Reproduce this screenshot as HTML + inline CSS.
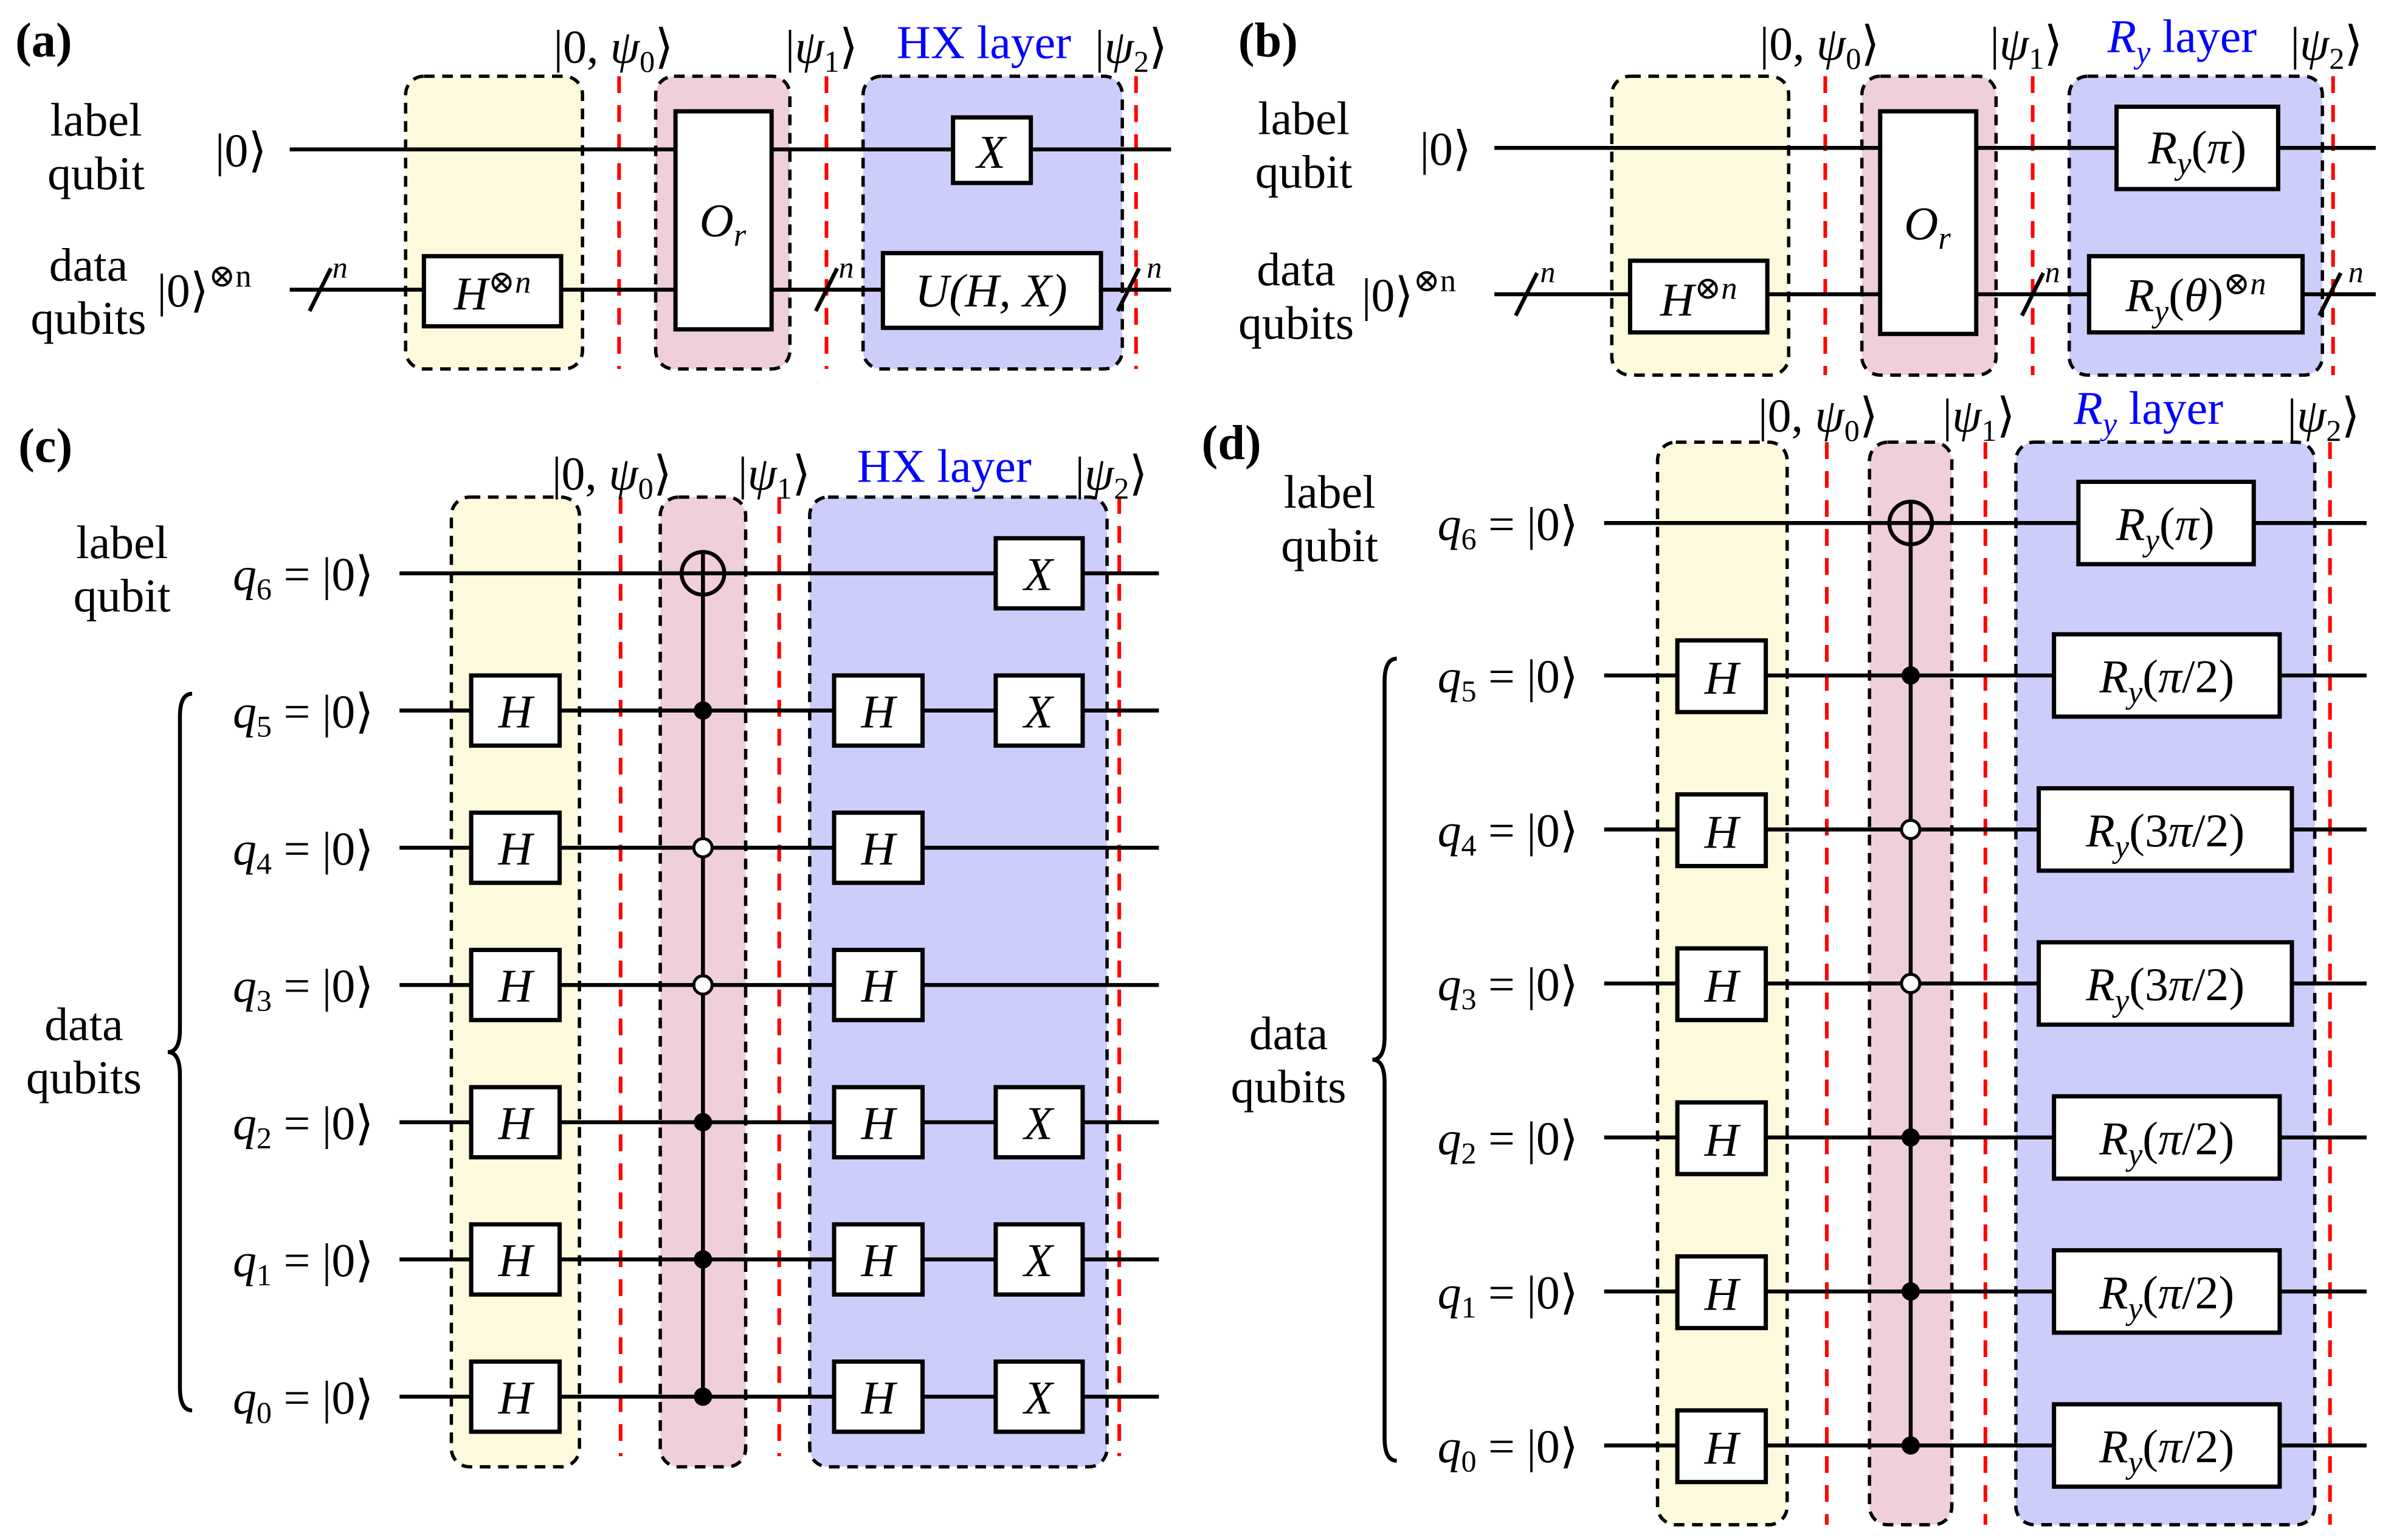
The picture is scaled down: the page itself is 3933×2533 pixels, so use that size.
<!DOCTYPE html>
<html><head><meta charset="utf-8"><style>
html,body{margin:0;padding:0;background:#fff}
svg{display:block}
text{font-family:"Liberation Serif","DejaVu Serif",serif;fill:#000}
.m{font-style:italic}
.w{stroke:#000;stroke-width:2.6;fill:none}
.b{fill:#fff;stroke:#000;stroke-width:2.8}
.r{stroke:#f00;stroke-width:2.4;stroke-dasharray:11 8}
.gy{fill:#fdf9dc;stroke:#000;stroke-width:2.2;stroke-dasharray:7 5}
.gp{fill:#efcfdc;stroke:#000;stroke-width:2.2;stroke-dasharray:7 5}
.gb{fill:#cdcdfb;stroke:#000;stroke-width:2.2;stroke-dasharray:7 5}
.bl{fill:#0000ff}
</style></head><body>
<svg width="3933" height="2533" viewBox="0 0 1568 1010" preserveAspectRatio="none" xmlns="http://www.w3.org/2000/svg">
<g font-size="31">
<!-- ===== (a) ===== -->
<text x="10" y="37" font-weight="bold" font-size="32">(a)</text>
<rect class="gy" x="266" y="50" width="116" height="192" rx="12"/>
<rect class="gp" x="430" y="50" width="88" height="192" rx="12"/>
<rect class="gb" x="566" y="50" width="170" height="192" rx="12"/>
<line class="r" x1="406" y1="50" x2="406" y2="242"/>
<line class="r" x1="542" y1="50" x2="542" y2="242"/>
<line class="r" x1="745" y1="50" x2="745" y2="242"/>
<line class="w" x1="190" y1="98" x2="768" y2="98"/>
<line class="w" x1="190" y1="190" x2="768" y2="190"/>
<line class="w" x1="203" y1="204" x2="217" y2="176"/><text x="218" y="182" class="m" font-size="20">n</text>
<line class="w" x1="535" y1="204" x2="549" y2="176"/><text x="550" y="182" class="m" font-size="20">n</text>
<line class="w" x1="733" y1="204" x2="747" y2="176"/><text x="752" y="182" class="m" font-size="20">n</text>
<rect class="b" x="278" y="168" width="90" height="46"/><text x="323" y="203" text-anchor="middle" class="m">H<tspan font-size="21" dy="-11">⊗n</tspan></text>
<rect class="b" x="443" y="73" width="63" height="143"/><text x="474" y="155" text-anchor="middle" class="m">O<tspan font-size="21" dy="6">r</tspan></text>
<rect class="b" x="625" y="77" width="51" height="43"/><text x="650" y="110" text-anchor="middle" class="m">X</text>
<rect class="b" x="579" y="166" width="143" height="49"/><text x="650" y="201" text-anchor="middle" class="m">U(H, X)</text>
<text x="63" y="89" text-anchor="middle">label</text><text x="63" y="124" text-anchor="middle">qubit</text>
<text x="158" y="109" text-anchor="middle">|0⟩</text>
<text x="58" y="184" text-anchor="middle">data</text><text x="58" y="219" text-anchor="middle">qubits</text>
<text x="103" y="201">|0⟩<tspan font-size="21" dy="-13">⊗n</tspan></text>
<text x="363" y="41">|0, <tspan class="m">ψ</tspan><tspan font-size="20" dy="6">0</tspan><tspan dy="-6">⟩</tspan></text>
<text x="515" y="41">|<tspan class="m">ψ</tspan><tspan font-size="20" dy="6">1</tspan><tspan dy="-6">⟩</tspan></text>
<text x="588" y="38" class="bl">HX layer</text>
<text x="718" y="41">|<tspan class="m">ψ</tspan><tspan font-size="20" dy="6">2</tspan><tspan dy="-6">⟩</tspan></text>

<!-- ===== (b) ===== -->
<text x="812" y="37" font-weight="bold" font-size="32">(b)</text>
<rect class="gy" x="1057" y="50" width="116" height="196" rx="12"/>
<rect class="gp" x="1221" y="50" width="88" height="196" rx="12"/>
<rect class="gb" x="1357" y="50" width="166" height="196" rx="12"/>
<line class="r" x1="1197" y1="50" x2="1197" y2="246"/>
<line class="r" x1="1333" y1="50" x2="1333" y2="246"/>
<line class="r" x1="1530" y1="50" x2="1530" y2="246"/>
<line class="w" x1="980" y1="97" x2="1558" y2="97"/>
<line class="w" x1="980" y1="193" x2="1558" y2="193"/>
<line class="w" x1="994" y1="207" x2="1008" y2="179"/><text x="1010" y="185" class="m" font-size="20">n</text>
<line class="w" x1="1326" y1="207" x2="1340" y2="179"/><text x="1341" y="185" class="m" font-size="20">n</text>
<line class="w" x1="1521" y1="207" x2="1535" y2="179"/><text x="1540" y="185" class="m" font-size="20">n</text>
<rect class="b" x="1069" y="171" width="90" height="47"/><text x="1114" y="207" text-anchor="middle" class="m">H<tspan font-size="21" dy="-11">⊗n</tspan></text>
<rect class="b" x="1233" y="73" width="63" height="146"/><text x="1264" y="157" text-anchor="middle" class="m">O<tspan font-size="21" dy="6">r</tspan></text>
<rect class="b" x="1388" y="70" width="106" height="54"/><text x="1441" y="107" text-anchor="middle"><tspan class="m">R<tspan font-size="21" dy="7">y</tspan></tspan><tspan dy="-7">(</tspan><tspan class="m">π</tspan>)</text>
<rect class="b" x="1370" y="168" width="140" height="50"/><text x="1440" y="204" text-anchor="middle"><tspan class="m">R<tspan font-size="21" dy="7">y</tspan></tspan><tspan dy="-7">(</tspan><tspan class="m">θ</tspan>)<tspan font-size="21" dy="-11">⊗<tspan class="m">n</tspan></tspan></text>
<text x="855" y="88" text-anchor="middle">label</text><text x="855" y="123" text-anchor="middle">qubit</text>
<text x="948" y="108" text-anchor="middle">|0⟩</text>
<text x="850" y="187" text-anchor="middle">data</text><text x="850" y="222" text-anchor="middle">qubits</text>
<text x="893" y="204">|0⟩<tspan font-size="21" dy="-13">⊗n</tspan></text>
<text x="1154" y="39">|0, <tspan class="m">ψ</tspan><tspan font-size="20" dy="6">0</tspan><tspan dy="-6">⟩</tspan></text>
<text x="1305" y="39">|<tspan class="m">ψ</tspan><tspan font-size="20" dy="6">1</tspan><tspan dy="-6">⟩</tspan></text>
<text x="1382" y="34" class="bl"><tspan class="m">R<tspan font-size="21" dy="7">y</tspan></tspan><tspan dy="-7"> layer</tspan></text>
<text x="1502" y="39">|<tspan class="m">ψ</tspan><tspan font-size="20" dy="6">2</tspan><tspan dy="-6">⟩</tspan></text>

<!-- ===== (c) ===== -->
<text x="12" y="303" font-weight="bold" font-size="32">(c)</text>
<rect class="gy" x="296" y="326" width="84" height="636" rx="12"/>
<rect class="gp" x="433" y="326" width="56" height="636" rx="12"/>
<rect class="gb" x="531" y="326" width="195" height="636" rx="12"/>
<line class="r" x1="407" y1="326" x2="407" y2="955"/>
<line class="r" x1="511" y1="326" x2="511" y2="955"/>
<line class="r" x1="734" y1="326" x2="734" y2="955"/>
<g class="w">
<line x1="262" y1="376" x2="760" y2="376"/><line x1="262" y1="466" x2="760" y2="466"/>
<line x1="262" y1="556" x2="760" y2="556"/><line x1="262" y1="646" x2="760" y2="646"/>
<line x1="262" y1="736" x2="760" y2="736"/><line x1="262" y1="826" x2="760" y2="826"/>
<line x1="262" y1="916" x2="760" y2="916"/>
<line x1="461" y1="362" x2="461" y2="916"/>
<circle cx="461" cy="376" r="14"/>
</g>
<circle cx="461" cy="466" r="6"/><circle cx="461" cy="556" r="6" fill="#fff" stroke="#000" stroke-width="2"/>
<circle cx="461" cy="646" r="6" fill="#fff" stroke="#000" stroke-width="2"/>
<circle cx="461" cy="736" r="6"/><circle cx="461" cy="826" r="6"/><circle cx="461" cy="916" r="6"/>
<g>
<rect class="b" x="309" y="443" width="58" height="46"/><rect class="b" x="309" y="533" width="58" height="46"/>
<rect class="b" x="309" y="623" width="58" height="46"/><rect class="b" x="309" y="713" width="58" height="46"/>
<rect class="b" x="309" y="803" width="58" height="46"/><rect class="b" x="309" y="893" width="58" height="46"/>
<rect class="b" x="547" y="443" width="58" height="46"/><rect class="b" x="547" y="533" width="58" height="46"/>
<rect class="b" x="547" y="623" width="58" height="46"/><rect class="b" x="547" y="713" width="58" height="46"/>
<rect class="b" x="547" y="803" width="58" height="46"/><rect class="b" x="547" y="893" width="58" height="46"/>
<rect class="b" x="653" y="353" width="57" height="46"/><rect class="b" x="653" y="443" width="57" height="46"/>
<rect class="b" x="653" y="713" width="57" height="46"/><rect class="b" x="653" y="803" width="57" height="46"/>
<rect class="b" x="653" y="893" width="57" height="46"/>
</g>
<g class="m" text-anchor="middle">
<text x="338" y="477">H</text><text x="338" y="567">H</text><text x="338" y="657">H</text><text x="338" y="747">H</text><text x="338" y="837">H</text><text x="338" y="927">H</text>
<text x="576" y="477">H</text><text x="576" y="567">H</text><text x="576" y="657">H</text><text x="576" y="747">H</text><text x="576" y="837">H</text><text x="576" y="927">H</text>
<text x="681" y="387">X</text><text x="681" y="477">X</text><text x="681" y="747">X</text><text x="681" y="837">X</text><text x="681" y="927">X</text>
</g>
<g text-anchor="end">
<text x="245" y="387"><tspan class="m">q</tspan><tspan font-size="20" dy="6">6</tspan><tspan dy="-6"> = |0⟩</tspan></text>
<text x="245" y="477"><tspan class="m">q</tspan><tspan font-size="20" dy="6">5</tspan><tspan dy="-6"> = |0⟩</tspan></text>
<text x="245" y="567"><tspan class="m">q</tspan><tspan font-size="20" dy="6">4</tspan><tspan dy="-6"> = |0⟩</tspan></text>
<text x="245" y="657"><tspan class="m">q</tspan><tspan font-size="20" dy="6">3</tspan><tspan dy="-6"> = |0⟩</tspan></text>
<text x="245" y="747"><tspan class="m">q</tspan><tspan font-size="20" dy="6">2</tspan><tspan dy="-6"> = |0⟩</tspan></text>
<text x="245" y="837"><tspan class="m">q</tspan><tspan font-size="20" dy="6">1</tspan><tspan dy="-6"> = |0⟩</tspan></text>
<text x="245" y="927"><tspan class="m">q</tspan><tspan font-size="20" dy="6">0</tspan><tspan dy="-6"> = |0⟩</tspan></text>
</g>
<path class="w" d="M126 455 Q118 455 118 470 L118 675 Q118 690 110 690 Q118 690 118 705 L118 910 Q118 925 126 925"/>
<text x="80" y="366" text-anchor="middle">label</text><text x="80" y="401" text-anchor="middle">qubit</text>
<text x="55" y="682" text-anchor="middle">data</text><text x="55" y="717" text-anchor="middle">qubits</text>
<text x="362" y="321">|0, <tspan class="m">ψ</tspan><tspan font-size="20" dy="6">0</tspan><tspan dy="-6">⟩</tspan></text>
<text x="484" y="321">|<tspan class="m">ψ</tspan><tspan font-size="20" dy="6">1</tspan><tspan dy="-6">⟩</tspan></text>
<text x="562" y="316" class="bl">HX layer</text>
<text x="705" y="321">|<tspan class="m">ψ</tspan><tspan font-size="20" dy="6">2</tspan><tspan dy="-6">⟩</tspan></text>

<!-- ===== (d) ===== -->
<text x="788" y="301" font-weight="bold" font-size="32">(d)</text>
<rect class="gy" x="1087" y="290" width="85" height="710" rx="12"/>
<rect class="gp" x="1226" y="290" width="54" height="710" rx="12"/>
<rect class="gb" x="1322" y="290" width="196" height="710" rx="12"/>
<line class="r" x1="1198" y1="290" x2="1198" y2="1000"/>
<line class="r" x1="1302" y1="290" x2="1302" y2="1000"/>
<line class="r" x1="1528" y1="290" x2="1528" y2="1000"/>
<g class="w">
<line x1="1052" y1="343" x2="1552" y2="343"/><line x1="1052" y1="443" x2="1552" y2="443"/>
<line x1="1052" y1="544" x2="1552" y2="544"/><line x1="1052" y1="645" x2="1552" y2="645"/>
<line x1="1052" y1="746" x2="1552" y2="746"/><line x1="1052" y1="847" x2="1552" y2="847"/>
<line x1="1052" y1="948" x2="1552" y2="948"/>
<line x1="1253" y1="329" x2="1253" y2="948"/>
<circle cx="1253" cy="343" r="14"/>
</g>
<circle cx="1253" cy="443" r="6"/><circle cx="1253" cy="544" r="6" fill="#fff" stroke="#000" stroke-width="2"/>
<circle cx="1253" cy="645" r="6" fill="#fff" stroke="#000" stroke-width="2"/>
<circle cx="1253" cy="746" r="6"/><circle cx="1253" cy="847" r="6"/><circle cx="1253" cy="948" r="6"/>
<rect class="b" x="1100" y="420" width="58" height="47"/><rect class="b" x="1100" y="521" width="58" height="47"/>
<rect class="b" x="1100" y="622" width="58" height="47"/><rect class="b" x="1100" y="723" width="58" height="47"/>
<rect class="b" x="1100" y="824" width="58" height="47"/><rect class="b" x="1100" y="925" width="58" height="47"/>
<g class="m" text-anchor="middle">
<text x="1129" y="455">H</text><text x="1129" y="556">H</text><text x="1129" y="657">H</text><text x="1129" y="758">H</text><text x="1129" y="859">H</text><text x="1129" y="960">H</text>
</g>
<rect class="b" x="1363" y="316" width="115" height="54"/>
<rect class="b" x="1347" y="416" width="148" height="54"/>
<rect class="b" x="1337" y="517" width="166" height="54"/>
<rect class="b" x="1337" y="618" width="166" height="54"/>
<rect class="b" x="1347" y="719" width="148" height="54"/>
<rect class="b" x="1347" y="820" width="148" height="54"/>
<rect class="b" x="1347" y="921" width="148" height="54"/>
<g text-anchor="middle">
<text x="1420" y="354"><tspan class="m">R<tspan font-size="21" dy="7">y</tspan></tspan><tspan dy="-7">(</tspan><tspan class="m">π</tspan>)</text>
<text x="1421" y="454"><tspan class="m">R<tspan font-size="21" dy="7">y</tspan></tspan><tspan dy="-7">(</tspan><tspan class="m">π</tspan>/2)</text>
<text x="1420" y="555"><tspan class="m">R<tspan font-size="21" dy="7">y</tspan></tspan><tspan dy="-7">(3</tspan><tspan class="m">π</tspan>/2)</text>
<text x="1420" y="656"><tspan class="m">R<tspan font-size="21" dy="7">y</tspan></tspan><tspan dy="-7">(3</tspan><tspan class="m">π</tspan>/2)</text>
<text x="1421" y="757"><tspan class="m">R<tspan font-size="21" dy="7">y</tspan></tspan><tspan dy="-7">(</tspan><tspan class="m">π</tspan>/2)</text>
<text x="1421" y="858"><tspan class="m">R<tspan font-size="21" dy="7">y</tspan></tspan><tspan dy="-7">(</tspan><tspan class="m">π</tspan>/2)</text>
<text x="1421" y="959"><tspan class="m">R<tspan font-size="21" dy="7">y</tspan></tspan><tspan dy="-7">(</tspan><tspan class="m">π</tspan>/2)</text>
</g>
<g text-anchor="end">
<text x="1035" y="354"><tspan class="m">q</tspan><tspan font-size="20" dy="6">6</tspan><tspan dy="-6"> = |0⟩</tspan></text>
<text x="1035" y="454"><tspan class="m">q</tspan><tspan font-size="20" dy="6">5</tspan><tspan dy="-6"> = |0⟩</tspan></text>
<text x="1035" y="555"><tspan class="m">q</tspan><tspan font-size="20" dy="6">4</tspan><tspan dy="-6"> = |0⟩</tspan></text>
<text x="1035" y="656"><tspan class="m">q</tspan><tspan font-size="20" dy="6">3</tspan><tspan dy="-6"> = |0⟩</tspan></text>
<text x="1035" y="757"><tspan class="m">q</tspan><tspan font-size="20" dy="6">2</tspan><tspan dy="-6"> = |0⟩</tspan></text>
<text x="1035" y="858"><tspan class="m">q</tspan><tspan font-size="20" dy="6">1</tspan><tspan dy="-6"> = |0⟩</tspan></text>
<text x="1035" y="959"><tspan class="m">q</tspan><tspan font-size="20" dy="6">0</tspan><tspan dy="-6"> = |0⟩</tspan></text>
</g>
<path class="w" d="M916 432 Q908 432 908 447 L908 680 Q908 695 900 695 Q908 695 908 710 L908 943 Q908 958 916 958"/>
<text x="872" y="333" text-anchor="middle">label</text><text x="872" y="368" text-anchor="middle">qubit</text>
<text x="845" y="688" text-anchor="middle">data</text><text x="845" y="723" text-anchor="middle">qubits</text>
<text x="1153" y="283">|0, <tspan class="m">ψ</tspan><tspan font-size="20" dy="6">0</tspan><tspan dy="-6">⟩</tspan></text>
<text x="1274" y="283">|<tspan class="m">ψ</tspan><tspan font-size="20" dy="6">1</tspan><tspan dy="-6">⟩</tspan></text>
<text x="1360" y="278" class="bl"><tspan class="m">R<tspan font-size="21" dy="7">y</tspan></tspan><tspan dy="-7"> layer</tspan></text>
<text x="1500" y="283">|<tspan class="m">ψ</tspan><tspan font-size="20" dy="6">2</tspan><tspan dy="-6">⟩</tspan></text>
</g>
</svg>
</body></html>
